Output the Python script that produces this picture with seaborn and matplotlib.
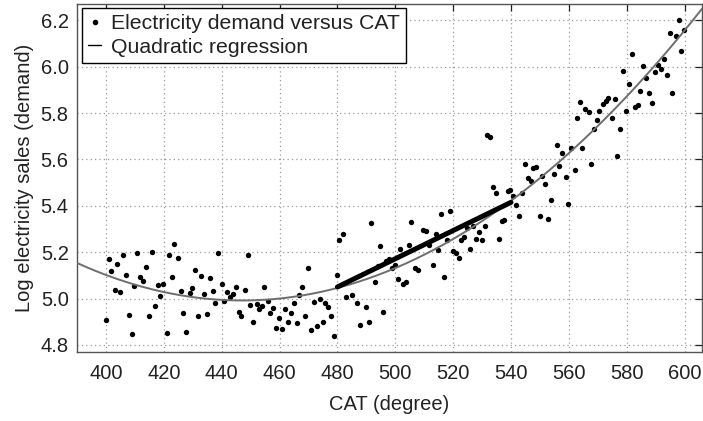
import numpy as np
import pandas as pd
import matplotlib
matplotlib.use("Agg")
import matplotlib.pyplot as plt
from matplotlib.lines import Line2D
import seaborn as sns

# ---- data ----
cat = [400, 401, 401.8, 403, 404, 404.8, 406, 406.8, 407.9, 409, 409.8, 410.9, 411.9, 412.9,
       413.9, 415, 415.9, 416.9, 417.9, 418.8, 419.9, 421, 421.8, 423, 423.7, 424.8, 426, 426.7,
       427.8, 429, 429.9, 430.9, 431.9, 432.9, 433.9, 435, 435.9, 436.9, 437.8, 438.8, 440,
       440.7, 441.8, 442.9, 443.8, 444.8, 445.9, 446.8, 447.9, 449.1, 449.9, 450.9, 452.1,
       452.9, 454, 454.8, 455.9, 456.6, 457.7, 458.7, 459.9, 460.7, 461.9, 463, 463.9, 464.9,
       466.1, 466.8, 467.8, 468.8, 469.8, 470.9, 471.8, 473, 474, 474.9, 475.7, 476.9, 477.8,
       478.8, 480, 480.7, 481.9, 483.1, 484.9, 486.8, 487.9, 489.8, 490.9, 491.7, 492.9, 494,
       494.7, 495.9, 496.7, 497.8, 498.8, 499.9, 500.8, 501.8, 502.6, 503.8, 504.9, 505.6,
       506.9, 507.9, 509.7, 510.8, 511.6, 512.9, 514, 514.8, 515.9, 516.7, 517.9, 518.8, 519.9,
       520.9, 521.9, 522.8, 523.9, 524.7, 525.7, 526.9, 527.9, 528.8, 529.9, 530.9, 531.6,
       532.8, 533.7, 534.7, 535.9, 536.8, 537.7, 538.8, 539.7, 540.6, 541.9, 542.9, 543.8,
       544.9, 545.9, 547, 547.7, 548.7, 549.9, 550.7, 551.7, 552.9, 553.7, 554.9, 555.9, 556.7,
       557.8, 559, 559.8, 560.9, 562, 562.9, 563.8, 564.7, 565.7, 566.9, 567.7, 568.8, 569.9,
       570.5, 571.8, 572.8, 573.6, 574.8, 575.9, 576.7, 577.7, 578.7, 579.8, 580.9, 581.7,
       582.8, 583.9, 584.7, 585.7, 586.8, 587.7, 588.8, 589.9, 590.8, 591.8, 592.9, 593.8,
       594.9, 595.6, 596.9, 597.9, 598.7, 599.7]
demand = [4.908, 5.172, 5.12, 5.039, 5.151, 5.029, 5.188, 5.103, 4.93, 4.848, 5.056, 5.195,
          5.093, 5.076, 5.138, 4.927, 5.202, 4.967, 5.059, 5.013, 5.062, 4.851, 5.19, 5.092,
          5.237, 5.173, 5.031, 4.937, 4.854, 5.023, 5.046, 5.125, 4.923, 5.096, 5.02, 4.935,
          5.089, 5.034, 4.983, 5.195, 5.065, 4.99, 5.03, 5.009, 5.02, 5.049, 4.941, 4.923,
          5.037, 5.188, 4.971, 4.898, 4.978, 4.954, 4.97, 5.049, 4.988, 4.94, 4.96, 4.874,
          4.917, 4.867, 4.956, 4.901, 4.938, 4.983, 4.894, 5.014, 5.052, 4.923, 5.133, 4.864,
          4.987, 4.883, 4.997, 4.901, 4.98, 4.963, 4.923, 4.837, 5.103, 5.251, 5.277, 5.009,
          5.017, 4.98, 4.885, 4.963, 4.898, 5.328, 5.072, 5.142, 5.227, 4.943, 5.16, 5.171,
          5.133, 5.146, 5.083, 5.212, 5.062, 5.073, 5.229, 5.332, 5.133, 5.125, 5.294, 5.291,
          5.232, 5.143, 5.277, 5.211, 5.363, 5.093, 5.254, 5.378, 5.205, 5.198, 5.175, 5.251,
          5.265, 5.304, 5.214, 5.314, 5.258, 5.288, 5.251, 5.311, 5.705, 5.698, 5.483, 5.455,
          5.258, 5.335, 5.338, 5.466, 5.469, 5.443, 5.403, 5.357, 5.457, 5.581, 5.519, 5.506,
          5.565, 5.568, 5.357, 5.529, 5.495, 5.345, 5.427, 5.539, 5.662, 5.571, 5.628, 5.525,
          5.409, 5.649, 5.554, 5.778, 5.847, 5.649, 5.816, 5.803, 5.581, 5.731, 5.771, 5.81,
          5.837, 5.852, 5.863, 5.778, 5.86, 5.614, 5.732, 5.982, 5.81, 5.923, 6.054, 5.827,
          5.833, 5.896, 6.001, 5.949, 5.887, 5.844, 5.976, 6.008, 5.991, 6.031, 5.962, 6.144,
          5.887, 6.134, 6.201, 6.067, 6.158]

# quadratic regression: y = c2*(x-500)^2 + c1*(x-500) + c0
quad_center = 500
quad_coef = [4.975e-5, 0.00527, 5.1315]
curve_range = [390, 606]

# local (linear) segment drawn in bold
seg_x = [480, 540]
seg_y = [5.05, 5.415]

x_ticks = [400, 420, 440, 460, 480, 500, 520, 540, 560, 580, 600]
y_ticks = [4.8, 5.0, 5.2, 5.4, 5.6, 5.8, 6.0, 6.2]
legend_labels = ["Electricity demand versus CAT", "Quadratic regression"]
x_label = "CAT (degree)"
y_label = "Log electricity sales (demand)"

# ---- figure ----
sns.set_style("white")
plt.rcParams["font.family"] = ["Liberation Sans", "DejaVu Sans"]

fig = plt.figure(figsize=(7.03, 4.21), dpi=100)
ax = fig.add_axes([0.1095, 0.164, 0.889, 0.8265])

df = pd.DataFrame({"cat": cat, "demand": demand})
sns.scatterplot(data=df, x="cat", y="demand", ax=ax, color="black", s=15,
                linewidth=0, zorder=3, legend=False)

xc = np.linspace(curve_range[0], curve_range[1], 400)
yc = np.polyval(quad_coef, xc - quad_center)
sns.lineplot(x=xc, y=yc, ax=ax, color="#6e6e6e", linewidth=1.4, zorder=4,
             estimator=None, sort=False)

sns.lineplot(x=seg_x, y=seg_y, ax=ax, color="black", linewidth=3.6, zorder=5,
             estimator=None, sort=False)

ax.set_xlim(curve_range[0], curve_range[1])
ax.set_ylim(4.77, 6.27)
ax.set_xticks(x_ticks)
ax.set_yticks(y_ticks)
ax.set_yticklabels([f"{v:.1f}" for v in y_ticks])
ax.tick_params(direction="in", top=True, right=True, length=5, width=0.9,
               colors="#222222", labelsize=14.5, labelcolor="#222222")
ax.tick_params(axis="x", pad=9)
ax.tick_params(axis="y", pad=6)
ax.grid(True, linestyle=(0, (1, 2.5)), color="#9a9a9a", linewidth=0.9)
for sp in ax.spines.values():
    sp.set_color("#555555")
    sp.set_linewidth(1.0)

ax.set_xlabel(x_label, fontsize=14.5, color="#222222", labelpad=8)
ax.set_ylabel(y_label, fontsize=14.5, color="#222222", labelpad=5)

handles = [Line2D([], [], marker="o", linestyle="none", color="black", markersize=3.0),
           Line2D([], [], color="black", linewidth=1.0)]
leg = ax.legend(handles, legend_labels, loc="upper left", bbox_to_anchor=(0.008, 0.989),
                borderaxespad=0, fontsize=15.3, handlelength=0.6, handletextpad=0.45,
                labelspacing=0.22, borderpad=0.3, fancybox=False, framealpha=1,
                edgecolor="black")
leg.get_frame().set_linewidth(1.0)
for t in leg.get_texts():
    t.set_color("#222222")

fig.savefig("out.png", dpi=100)
